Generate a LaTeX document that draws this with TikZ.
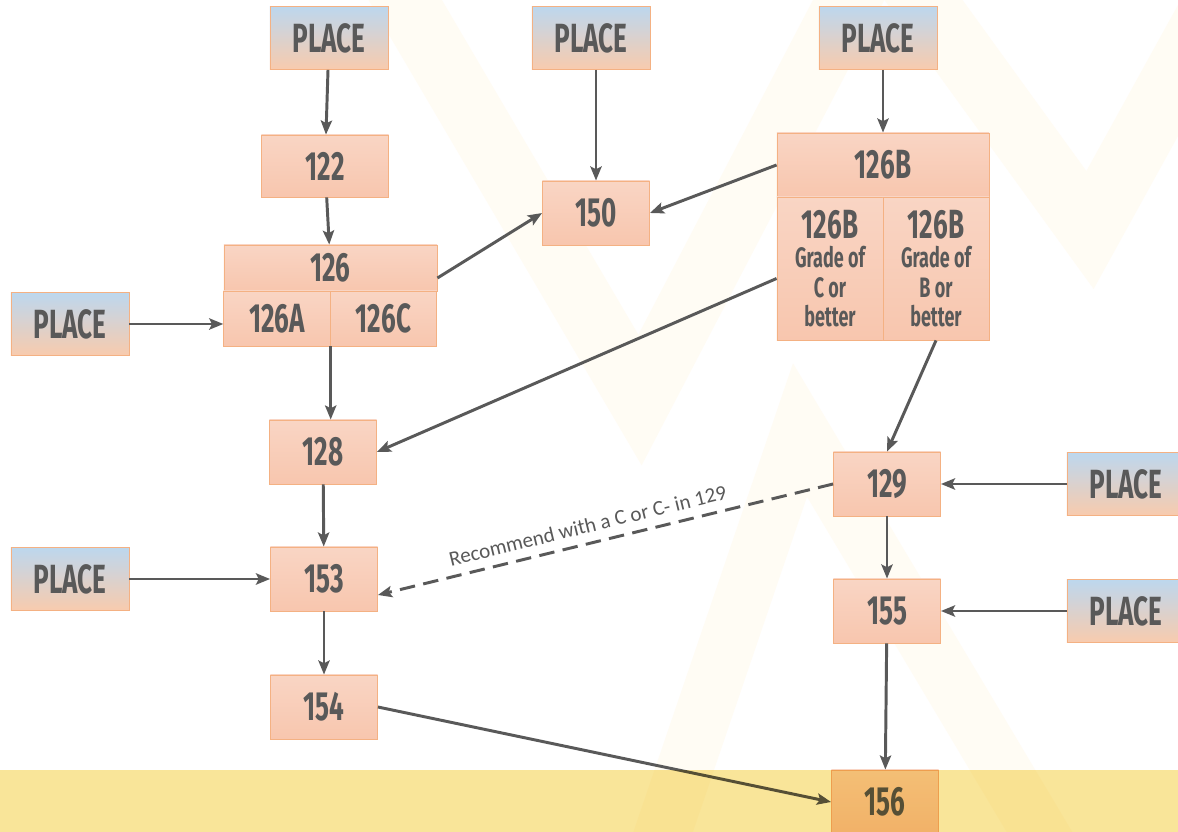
\documentclass[tikz,border=0pt]{standalone}
\usepackage{fontspec}
\usetikzlibrary{arrows.meta}

\newfontfamily\boxfont[FakeStretch=0.64]{Fira Sans}
\newfontfamily\notefont{Carlito}
\newcommand\gradesize{\fontsize{20}{21}\selectfont}
\newcommand\numsize{\fontsize{29}{30}\selectfont}

\definecolor{placetop}{HTML}{BDD7EE}
\definecolor{placebot}{HTML}{F8CBAD}
\definecolor{coursetop}{HTML}{F9D5C4}
\definecolor{coursebot}{HTML}{F8C6AE}
\definecolor{boxline}{HTML}{F4B183}
\definecolor{txtgrey}{HTML}{595959}
\definecolor{arrowgrey}{HTML}{595959}
\definecolor{bandyellow}{HTML}{F9E599}
\definecolor{bgpale}{HTML}{FFFCF4}

\begin{document}
\begin{tikzpicture}[x=0.025cm,y=-0.025cm,
  box/.style={draw=boxline,line width=0.6pt,inner sep=0pt,text=txtgrey,
    font=\boxfont\bfseries\numsize},
  placebox/.style={box,top color=placetop,bottom color=placebot,
    minimum width=2.95cm,minimum height=1.575cm},
  course/.style={box,top color=coursetop,bottom color=coursebot,
    minimum width=2.675cm,minimum height=1.6cm},
  gradecell/.style={course,minimum width=2.65cm,minimum height=3.575cm,align=center,
    font=\boxfont\bfseries\gradesize},
  arr/.style={-{Stealth[length=10pt,width=8pt,inset=2pt]},color=arrowgrey,line width=2.1pt}]
\clip (0,0) rectangle (1178,832);
\fill[white] (0,0) rectangle (1178,832);

% faint chevrons behind
\draw[bgpale,line width=45pt] (370,-60) -- (640,400) -- (880,-60);
\draw[bgpale,line width=45pt] (880,-60) -- (1090,230) -- (1250,-60);
\draw[bgpale,line width=40pt] (640,900) -- (800,430) -- (1080,900);

% top row
\node[placebox] (p1) at (329,38) {PLACE};
\node[placebox] (p2) at (591,38) {PLACE};
\node[placebox] (p3) at (878,38) {PLACE};

\node[course,minimum width=3.175cm,minimum height=1.55cm] (c122) at (325,166) {122};
\node[course] (c150) at (596,213) {150};

% 126 split box
\node[course,minimum width=5.325cm,minimum height=1.15cm] (c126) at (330.5,268) {126};
\node[course,minimum width=2.6625cm,minimum height=1.375cm] (c126A) at (277,318.5) {126A};
\node[course,minimum width=2.6625cm,minimum height=1.375cm] (c126C) at (383.5,318.5) {126C};

% 126B split box
\node[course,minimum width=5.3cm,minimum height=1.6cm] (c126B) at (883,165) {126B};
\node[gradecell] (c126BC) at (830,268.5) {\numsize 126B\\Grade of\\C or\\better};
\node[gradecell] (c126BB) at (936,268.5) {\numsize 126B\\Grade of\\B or\\better};

\node[placebox] (pL1) at (70,324) {PLACE};
\node[course] (c128) at (323,452) {128};
\node[course] (c129) at (887,484) {129};
\node[placebox] (pR1) at (1126,484) {PLACE};
\node[placebox] (pL2) at (70,579) {PLACE};
\node[course] (c153) at (324,579) {153};
\node[course] (c155) at (887,611) {155};
\node[placebox] (pR2) at (1126,611) {PLACE};
\node[course] (c154) at (324,707) {154};
\node[course] (c156) at (885,802) {156};

% prerequisites
\path[arr] (p1) edge (c122);
\path[arr] (p2.south -| c150.north) edge (c150.north);
\path[arr] (p3.south -| c126B.north) edge (c126B.north);
\path[arr] (c122) edge (c126);
\path[arr] (c126B.west) edge (c150.east);
\path[arr] ([yshift=-0.25cm]c126.east) edge (c150.west);
\path[arr] (pL1.east) edge (pL1.east -| c126A.west);
\path[arr] (c126A.south east) edge (c126A.south east |- c128.north);
\path[arr] ([yshift=-0.25cm]c126BC.west) edge (c128.east);
\path[arr] (c126BB.south) edge (c129.north);
\path[arr] (pR1) edge (c129);
\path[arr] (c128) edge (c153);
\path[arr,dash pattern=on 11pt off 6pt] (c129.west) edge
  node[pos=0.53,above=3pt,sloped,text=txtgrey,font=\notefont\fontsize{15}{17}\selectfont]
  {Recommend with a C or C- in 129} ([yshift=-0.4cm]c153.east);
\path[arr] (pL2) edge (c153);
\path[arr] (c129) edge (c155);
\path[arr] (pR2) edge (c155);
\path[arr] (c153) edge (c154);
\path[arr] (c155) edge (c156);
\path[arr] (c154.east) edge (c156.west);

% yellow band laid over the bottom
\begin{scope}[blend mode=multiply]
\fill[bandyellow] (0,770) rectangle (1178,832);
\end{scope}
\end{tikzpicture}
\end{document}
